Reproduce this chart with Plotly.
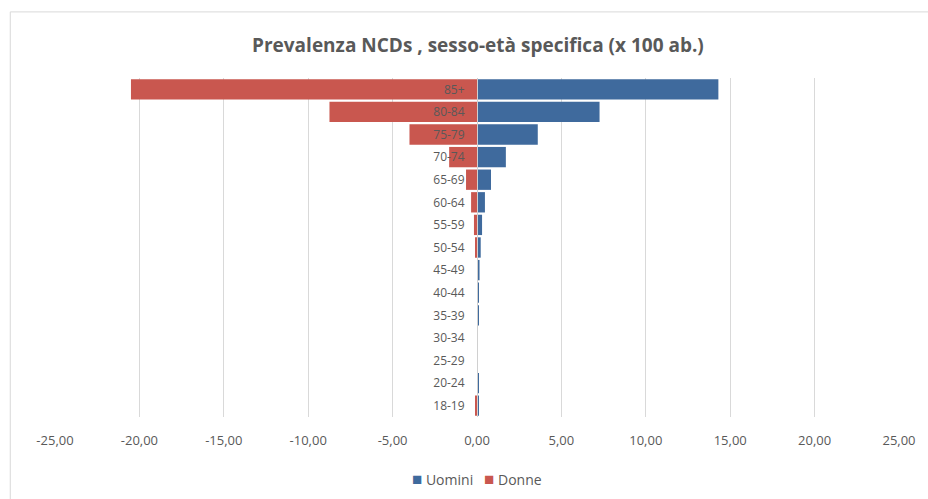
import plotly.graph_objects as go

# age classes, bottom to top
eta = ['18-19', '20-24', '25-29', '30-34', '35-39', '40-44', '45-49', '50-54',
       '55-59', '60-64', '65-69', '70-74', '75-79', '80-84', '85+']

uomini = [0.08, 0.07, 0.0, 0.0, 0.08, 0.08, 0.15, 0.22, 0.3, 0.47, 0.83, 1.71, 3.6, 7.26, 14.3]
donne = [-0.1, 0.0, 0.0, 0.0, 0.0, 0.0, 0.0, -0.1, -0.18, -0.35, -0.65, -1.65, -4.0, -8.74, -20.5]

x_ticks = [-25, -20, -15, -10, -5, 0, 5, 10, 15, 20, 25]
x_labels = ['-25,00', '-20,00', '-15,00', '-10,00', '-5,00', '0,00',
            '5,00', '10,00', '15,00', '20,00', '25,00']

grigio = '#595959'
blu = '#3F6A9D'
rosso = '#C9574F'

fig = go.Figure()
fig.add_trace(go.Bar(y=eta, x=uomini, orientation='h', name='Uomini',
                     marker=dict(color=blu, line=dict(width=0))))
fig.add_trace(go.Bar(y=eta, x=donne, orientation='h', name='Donne',
                     marker=dict(color=rosso, line=dict(width=0))))

fig.update_layout(
    width=928, height=499,
    barmode='relative', bargap=0.1,
    plot_bgcolor='white', paper_bgcolor='white',
    font=dict(family='Open Sans, Lato, sans-serif', color=grigio, size=12),
    title=dict(text='<b>Prevalenza NCDs , sesso-età specifica (x 100 ab.)</b>',
               x=0.515, xanchor='center', y=0.91, yanchor='middle',
               font=dict(size=19, color=grigio)),
    margin=dict(l=55, r=26, t=78, b=82),
    xaxis=dict(range=[-25, 25], tickvals=x_ticks, ticktext=x_labels,
               showgrid=True, gridcolor='#D9D9D9', gridwidth=1,
               zeroline=False, showline=False, ticks='',
               ticklabelstandoff=14,
               tickfont=dict(size=13, color=grigio)),
    yaxis=dict(anchor='free', position=0.5, showgrid=False, zeroline=False,
               showline=True, linecolor='#D0D0D0', linewidth=1, ticks='',
               ticklabelstandoff=10, tickfont=dict(size=12, color=grigio)),
    showlegend=False,
)

# legend drawn as text, compact like the Excel one
fig.add_annotation(
    xref='paper', yref='paper', x=0.5, y=-0.18, xanchor='center', yanchor='middle',
    showarrow=False, font=dict(size=14, color=grigio),
    text=f"<span style='color:{blu};font-size:17px'>■</span>&nbsp;Uomini&nbsp;&nbsp;&nbsp;"
         f"<span style='color:{rosso};font-size:17px'>■</span>&nbsp;Donne",
)

fig.add_shape(type='rect', xref='paper', yref='paper',
              x0=-0.053, x1=1.04, y0=-0.3, y1=1.195,
              line=dict(color='#D9D9D9', width=1), layer='below')

fig.write_html('out.html', config={'displayModeBar': False},
               post_script="document.body.style.margin='0';")
